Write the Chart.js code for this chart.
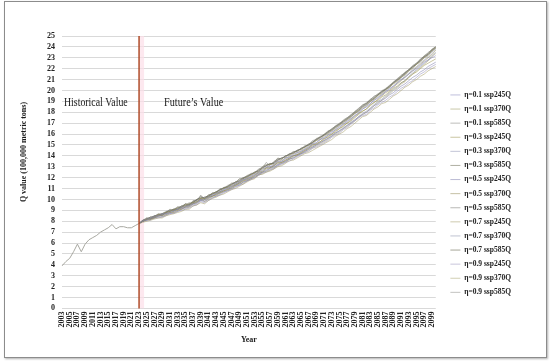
<!DOCTYPE html>
<html lang="en">
<head>
<meta charset="UTF-8">
<title>Q value projection</title>
<script src="https://cdn.jsdelivr.net/npm/chart.js"></script>
<style>
  html, body { margin: 0; padding: 0; background: #fff; }
  #wrap { position: relative; width: 550px; height: 362px; }
  #frame { position: absolute; left: 4px; top: 1px; width: 541px; height: 355px;
           border: 1px solid #8c8c8c; box-shadow: 1px 1px 2px #b0b0b0; pointer-events: none; }
</style>
</head>
<body>
<div id="wrap">
  <canvas id="chart" width="550" height="362"></canvas>
  <div id="frame"></div>
</div>
<script>
// years on the x axis, 2003 .. 2100
const years = [];
for (let y = 2003; y <= 2100; y++) years.push(String(y));

// observed values 2003-2023
const historical = [3.9, 4.3, 4.6, 5.2, 5.9, 5.2, 5.9, 6.3, 6.5, 6.7, 7.0,
                    7.2, 7.4, 7.7, 7.3, 7.5, 7.5, 7.4, 7.4, 7.6, 7.8];

// projections 2023-2100, one array per scenario
const e01_245 = [7.8, 8.0, 8.2, 8.3, 8.4, 8.5, 8.6, 8.7, 8.8, 8.9,
  9.1, 9.2, 9.3, 9.4, 9.6, 9.7, 10.0, 9.9, 10.2, 10.4,
  10.5, 10.7, 10.9, 11.0, 11.2, 11.4, 11.6, 11.8, 11.9, 12.1,
  12.3, 12.5, 12.7, 13.0, 13.0, 13.2, 13.5, 13.5, 13.8, 13.9,
  14.1, 14.3, 14.4, 14.6, 14.8, 15.1, 15.2, 15.5, 15.7, 15.9,
  16.2, 16.4, 16.7, 16.9, 17.2, 17.4, 17.7, 18.0, 18.3, 18.5,
  18.8, 19.1, 19.3, 19.6, 19.9, 20.1, 20.4, 20.7, 21.0, 21.2,
  21.5, 21.8, 22.0, 22.3, 22.6, 22.8, 23.0, 23.2];
const e01_370 = [7.8, 8.0, 8.2, 8.3, 8.4, 8.6, 8.6, 8.8, 8.9, 9.0,
  9.2, 9.2, 9.5, 9.6, 9.7, 9.8, 10.1, 10.1, 10.2, 10.5,
  10.6, 10.7, 11.0, 11.1, 11.3, 11.4, 11.6, 11.8, 12.0, 12.2,
  12.4, 12.5, 12.8, 12.9, 13.2, 13.2, 13.5, 13.6, 13.8, 14.0,
  14.2, 14.3, 14.5, 14.7, 14.9, 15.1, 15.4, 15.5, 15.8, 16.0,
  16.3, 16.5, 16.8, 17.0, 17.3, 17.5, 17.9, 18.1, 18.4, 18.6,
  19.0, 19.2, 19.5, 19.7, 20.0, 20.3, 20.6, 20.8, 21.2, 21.4,
  21.8, 22.0, 22.4, 22.6, 23.0, 23.2, 23.6, 23.9];
const e01_585 = [7.8, 8.0, 8.3, 8.2, 8.5, 8.6, 8.5, 8.9, 9.0, 8.9,
  9.2, 9.4, 9.5, 9.4, 9.9, 9.9, 10.4, 10.0, 10.3, 10.6,
  10.6, 11.0, 11.0, 11.3, 11.4, 11.6, 11.8, 12.0, 12.1, 12.4,
  12.4, 12.8, 12.9, 13.4, 13.1, 13.5, 13.7, 13.8, 13.9, 14.2,
  14.3, 14.5, 14.6, 14.9, 15.0, 15.4, 15.5, 15.8, 15.9, 16.3,
  16.4, 16.8, 16.9, 17.3, 17.5, 17.8, 18.0, 18.4, 18.6, 18.9,
  19.1, 19.5, 19.6, 20.0, 20.1, 20.5, 20.7, 21.1, 21.3, 21.7,
  21.9, 22.3, 22.5, 22.9, 23.1, 23.5, 23.7, 24.0];
const e03_245 = [7.8, 8.0, 8.2, 8.2, 8.3, 8.5, 8.5, 8.6, 8.8, 8.8,
  9.0, 9.1, 9.3, 9.3, 9.6, 9.7, 10.1, 9.8, 10.1, 10.3,
  10.4, 10.6, 10.8, 10.9, 11.1, 11.3, 11.5, 11.7, 11.8, 12.0,
  12.2, 12.5, 12.6, 12.9, 12.9, 13.1, 13.4, 13.4, 13.6, 13.8,
  14.0, 14.1, 14.3, 14.5, 14.7, 15.0, 15.1, 15.3, 15.5, 15.8,
  16.0, 16.3, 16.5, 16.8, 17.0, 17.3, 17.6, 17.9, 18.1, 18.3,
  18.6, 18.9, 19.1, 19.4, 19.6, 19.9, 20.2, 20.4, 20.7, 20.9,
  21.2, 21.5, 21.7, 22.0, 22.3, 22.5, 22.7, 22.9];
const e03_370 = [7.8, 8.1, 8.1, 8.3, 8.5, 8.5, 8.7, 8.7, 9.0, 9.0,
  9.1, 9.3, 9.4, 9.6, 9.6, 9.9, 10.0, 10.2, 10.2, 10.4,
  10.6, 10.7, 10.9, 11.1, 11.2, 11.4, 11.5, 11.8, 11.9, 12.1,
  12.3, 12.4, 12.6, 12.9, 13.0, 13.1, 13.4, 13.5, 13.7, 13.9,
  14.0, 14.2, 14.4, 14.6, 14.8, 15.0, 15.2, 15.5, 15.6, 15.9,
  16.1, 16.4, 16.6, 16.9, 17.1, 17.4, 17.7, 17.9, 18.3, 18.5,
  18.8, 19.1, 19.4, 19.6, 19.9, 20.2, 20.4, 20.7, 21.0, 21.3,
  21.6, 21.9, 22.2, 22.5, 22.8, 23.1, 23.5, 23.8];
const e03_585 = [7.8, 8.1, 8.2, 8.4, 8.4, 8.7, 8.6, 8.8, 9.1, 9.0,
  9.3, 9.3, 9.6, 9.5, 9.8, 10.0, 10.2, 10.1, 10.4, 10.5,
  10.7, 10.9, 11.1, 11.2, 11.5, 11.5, 11.9, 11.9, 12.2, 12.3,
  12.5, 12.7, 13.0, 13.2, 13.2, 13.4, 13.8, 13.7, 14.0, 14.1,
  14.4, 14.4, 14.7, 14.8, 15.1, 15.2, 15.6, 15.7, 16.0, 16.2,
  16.5, 16.7, 17.0, 17.2, 17.5, 17.7, 18.1, 18.3, 18.7, 18.8,
  19.2, 19.4, 19.7, 19.9, 20.2, 20.4, 20.8, 21.0, 21.4, 21.6,
  21.9, 22.2, 22.5, 22.8, 23.2, 23.4, 23.8, 24.0];
const e05_245 = [7.8, 8.0, 8.1, 8.2, 8.3, 8.4, 8.4, 8.6, 8.7, 8.8,
  8.9, 9.1, 9.2, 9.3, 9.5, 9.6, 9.9, 9.8, 10.0, 10.2,
  10.3, 10.5, 10.7, 10.8, 11.0, 11.2, 11.3, 11.6, 11.7, 11.9,
  12.1, 12.3, 12.5, 12.7, 12.8, 13.0, 13.2, 13.3, 13.5, 13.7,
  13.8, 14.0, 14.2, 14.4, 14.6, 14.8, 15.0, 15.2, 15.4, 15.6,
  15.8, 16.1, 16.3, 16.5, 16.8, 17.0, 17.3, 17.6, 17.8, 18.0,
  18.3, 18.6, 18.8, 19.1, 19.3, 19.6, 19.8, 20.1, 20.4, 20.6,
  20.9, 21.2, 21.4, 21.7, 21.9, 22.2, 22.4, 22.6];
const e05_370 = [7.8, 8.0, 8.2, 8.2, 8.4, 8.6, 8.5, 8.8, 8.9, 9.1,
  9.0, 9.3, 9.4, 9.5, 9.7, 9.8, 10.0, 10.1, 10.3, 10.3,
  10.5, 10.7, 10.8, 11.0, 11.2, 11.3, 11.5, 11.7, 11.9, 12.0,
  12.2, 12.4, 12.5, 12.8, 12.9, 13.1, 13.3, 13.4, 13.6, 13.8,
  14.0, 14.1, 14.3, 14.5, 14.7, 14.9, 15.1, 15.3, 15.6, 15.7,
  16.0, 16.2, 16.5, 16.7, 17.0, 17.2, 17.5, 17.8, 18.1, 18.3,
  18.7, 18.9, 19.2, 19.5, 19.8, 20.0, 20.3, 20.6, 20.9, 21.2,
  21.5, 21.8, 22.1, 22.4, 22.7, 23.0, 23.3, 23.7];
const e05_585 = [7.8, 8.1, 8.3, 8.3, 8.5, 8.6, 8.7, 8.8, 9.0, 9.1,
  9.2, 9.3, 9.6, 9.5, 9.8, 9.9, 10.3, 10.1, 10.4, 10.5,
  10.7, 10.9, 11.0, 11.2, 11.4, 11.5, 11.7, 11.9, 12.1, 12.2,
  12.5, 12.6, 12.9, 13.1, 13.2, 13.4, 13.6, 13.8, 14.0, 14.1,
  14.3, 14.5, 14.6, 14.8, 15.0, 15.3, 15.4, 15.7, 15.9, 16.1,
  16.4, 16.6, 16.9, 17.1, 17.4, 17.6, 17.9, 18.2, 18.5, 18.7,
  19.0, 19.3, 19.6, 19.8, 20.1, 20.3, 20.7, 20.9, 21.2, 21.5,
  21.8, 22.1, 22.4, 22.7, 23.0, 23.3, 23.6, 23.9];
const e07_245 = [7.8, 7.9, 8.0, 8.1, 8.2, 8.3, 8.3, 8.5, 8.6, 8.7,
  8.8, 8.9, 9.1, 9.1, 9.4, 9.5, 9.7, 9.6, 9.9, 10.1,
  10.2, 10.4, 10.5, 10.7, 10.9, 11.0, 11.2, 11.4, 11.6, 11.8,
  11.9, 12.3, 12.3, 12.5, 12.6, 12.8, 13.0, 13.1, 13.3, 13.6,
  13.6, 13.8, 14.0, 14.2, 14.3, 14.5, 14.7, 14.9, 15.1, 15.3,
  15.5, 15.8, 16.0, 16.2, 16.5, 16.7, 17.0, 17.3, 17.6, 17.7,
  18.0, 18.3, 18.5, 18.8, 18.9, 19.2, 19.5, 19.7, 20.0, 20.3,
  20.5, 20.8, 21.0, 21.3, 21.5, 21.8, 22.0, 22.2];
const e07_370 = [7.8, 8.0, 8.1, 8.3, 8.3, 8.5, 8.6, 8.7, 8.8, 9.0,
  9.1, 9.2, 9.3, 9.5, 9.6, 9.8, 9.9, 10.0, 10.2, 10.3,
  10.5, 10.6, 10.8, 10.9, 11.1, 11.3, 11.4, 11.6, 11.8, 11.9,
  12.1, 12.3, 12.5, 12.6, 12.9, 12.9, 13.2, 13.4, 13.5, 13.7,
  13.9, 14.1, 14.2, 14.4, 14.6, 14.8, 15.0, 15.2, 15.4, 15.6,
  15.9, 16.1, 16.3, 16.6, 16.8, 17.1, 17.3, 17.6, 17.9, 18.1,
  18.4, 18.7, 19.0, 19.2, 19.5, 19.8, 20.1, 20.3, 20.7, 20.9,
  21.3, 21.6, 21.9, 22.2, 22.5, 22.8, 23.2, 23.5];
const e07_585 = [7.8, 8.0, 8.2, 8.3, 8.5, 8.5, 8.7, 8.8, 8.9, 9.1,
  9.1, 9.4, 9.4, 9.6, 9.7, 10.0, 10.1, 10.2, 10.3, 10.5,
  10.7, 10.8, 11.1, 11.1, 11.4, 11.6, 11.7, 12.0, 12.1, 12.3,
  12.5, 12.6, 12.9, 13.1, 13.3, 13.3, 13.6, 13.8, 13.9, 14.2,
  14.2, 14.5, 14.6, 14.9, 15.0, 15.2, 15.5, 15.7, 15.9, 16.2,
  16.4, 16.7, 16.9, 17.2, 17.4, 17.7, 18.0, 18.2, 18.6, 18.8,
  19.1, 19.3, 19.6, 19.9, 20.1, 20.4, 20.7, 21.0, 21.2, 21.6,
  21.9, 22.2, 22.4, 22.8, 23.1, 23.3, 23.7, 24.0];
const e09_245 = [7.8, 8.0, 8.1, 8.1, 8.3, 8.3, 8.4, 8.5, 8.7, 8.7,
  8.9, 9.0, 9.1, 9.2, 9.4, 9.5, 9.8, 9.7, 9.9, 10.1,
  10.3, 10.4, 10.6, 10.8, 10.9, 11.1, 11.3, 11.4, 11.7, 11.8,
  12.0, 12.2, 12.4, 12.5, 12.7, 12.8, 13.1, 13.2, 13.4, 13.5,
  13.7, 13.9, 14.1, 14.3, 14.4, 14.7, 14.8, 15.0, 15.2, 15.4,
  15.7, 15.9, 16.1, 16.4, 16.6, 16.9, 17.2, 17.5, 17.7, 17.8,
  18.2, 18.4, 18.7, 18.9, 19.1, 19.4, 19.6, 19.9, 20.2, 20.4,
  20.7, 20.9, 21.2, 21.5, 21.7, 22.0, 22.2, 22.4];
const e09_370 = [7.8, 8.0, 8.2, 8.2, 8.4, 8.4, 8.6, 8.7, 8.8, 8.9,
  9.1, 9.1, 9.3, 9.4, 9.6, 9.7, 9.9, 10.0, 10.1, 10.3,
  10.4, 10.6, 10.7, 10.9, 11.0, 11.2, 11.4, 11.5, 11.7, 11.9,
  12.0, 12.2, 12.4, 12.6, 12.7, 12.9, 13.1, 13.3, 13.4, 13.7,
  13.8, 14.0, 14.2, 14.3, 14.5, 14.7, 14.9, 15.1, 15.3, 15.5,
  15.8, 16.0, 16.2, 16.5, 16.7, 17.0, 17.2, 17.5, 17.8, 18.0,
  18.3, 18.6, 18.9, 19.1, 19.4, 19.7, 20.0, 20.2, 20.6, 20.8,
  21.2, 21.5, 21.8, 22.1, 22.4, 22.7, 23.1, 23.4];
const e09_585 = [7.8, 8.1, 8.2, 8.4, 8.4, 8.6, 8.7, 8.9, 8.9, 9.1,
  9.3, 9.3, 9.5, 9.7, 9.7, 10.0, 10.1, 10.2, 10.3, 10.6,
  10.6, 10.9, 11.0, 11.2, 11.3, 11.6, 11.6, 11.9, 12.0, 12.3,
  12.4, 12.7, 12.8, 13.1, 13.3, 13.3, 13.7, 13.7, 14.0, 14.1,
  14.3, 14.4, 14.7, 14.8, 15.0, 15.2, 15.5, 15.6, 15.9, 16.1,
  16.3, 16.6, 16.8, 17.1, 17.3, 17.6, 17.9, 18.1, 18.5, 18.7,
  19.0, 19.2, 19.6, 19.8, 20.1, 20.3, 20.7, 20.9, 21.3, 21.5,
  21.9, 22.1, 22.5, 22.7, 23.1, 23.3, 23.7, 23.9];

const scenarioNames = [
  'η=0.1 ssp245Q', 'η=0.1 ssp370Q', 'η=0.1 ssp585Q',
  'η=0.3 ssp245Q', 'η=0.3 ssp370Q', 'η=0.3 ssp585Q',
  'η=0.5 ssp245Q', 'η=0.5 ssp370Q', 'η=0.5 ssp585Q',
  'η=0.7 ssp245Q', 'η=0.7 ssp370Q', 'η=0.7 ssp585Q',
  'η=0.9 ssp245Q', 'η=0.9 ssp370Q', 'η=0.9 ssp585Q'
];
const scenarioValues = [e01_245, e01_370, e01_585, e03_245, e03_370, e03_585,
  e05_245, e05_370, e05_585, e07_245, e07_370, e07_585, e09_245, e09_370, e09_585];
// muted lavender / olive / grey, semi transparent so the bundle darkens where lines overlap
const scenarioColors = [
  'rgba(130,128,185,0.5)', 'rgba(150,145,85,0.5)', 'rgba(125,125,120,0.5)',
  'rgba(150,142,70,0.5)', 'rgba(135,140,175,0.5)', 'rgba(110,110,85,0.55)',
  'rgba(120,120,170,0.5)', 'rgba(140,132,75,0.5)', 'rgba(115,115,110,0.5)',
  'rgba(160,152,95,0.5)', 'rgba(130,136,165,0.5)', 'rgba(95,95,70,0.55)',
  'rgba(145,140,185,0.5)', 'rgba(165,160,105,0.5)', 'rgba(135,135,130,0.5)'
];

const splitYear = '2023';
const pad = n => new Array(n).fill(null);

const datasets = [{
  label: 'Historical',
  data: historical.concat(pad(years.length - historical.length)),
  borderColor: '#a9a9a2',
  backgroundColor: '#a9a9a2',
  borderWidth: 1,
  pointRadius: 0,
  tension: 0
}];
scenarioValues.forEach((vals, i) => {
  datasets.push({
    label: scenarioNames[i],
    data: pad(historical.length - 1).concat(vals),
    borderColor: scenarioColors[i],
    backgroundColor: scenarioColors[i],
    borderWidth: 1,
    pointRadius: 0,
    tension: 0
  });
});

const serif = "'Liberation Serif', 'Times New Roman', serif";

const overlay = {
  id: 'overlay',
  beforeDatasetsDraw(chart) {
    const {ctx, chartArea} = chart;
    const xs = chart.scales.x;
    const xp = xs.getPixelForValue(years.indexOf(splitYear));
    ctx.save();
    ctx.fillStyle = 'rgba(252,222,232,0.7)';
    ctx.fillRect(xp + 1, chartArea.top, 4, chartArea.bottom - chartArea.top);
    ctx.restore();
  },
  afterDatasetsDraw(chart) {
    const {ctx, chartArea} = chart;
    const xs = chart.scales.x, ys = chart.scales.y;
    const xp = xs.getPixelForValue(years.indexOf(splitYear));
    ctx.save();
    ctx.strokeStyle = '#b04a28';
    ctx.lineWidth = 1.5;
    ctx.beginPath();
    ctx.moveTo(xp, chartArea.top);
    ctx.lineTo(xp, chartArea.bottom);
    ctx.stroke();

    // region captions
    ctx.fillStyle = '#1a1a1a';
    ctx.font = '12px ' + serif;
    ctx.textBaseline = 'middle';
    const ty = ys.getPixelForValue(18.9);
    ctx.save();
    ctx.translate(xs.getPixelForValue(0) + 2, ty);
    ctx.scale(0.82, 1);
    ctx.fillText('Historical Value', 0, 0);
    ctx.restore();
    ctx.save();
    ctx.translate(xp + 25, ty);
    ctx.scale(0.85, 1);
    ctx.fillText('Future\u2019s Value', 0, 0);
    ctx.restore();

    // y axis title
    ctx.save();
    ctx.translate(24, 152);
    ctx.rotate(-Math.PI / 2);
    ctx.font = 'bold 8px ' + serif;
    ctx.textAlign = 'center';
    ctx.fillText('Q value (100,000 metric tons)', 0, 0);
    ctx.restore();
    ctx.restore();
  }
};

new Chart(document.getElementById('chart'), {
  type: 'line',
  data: { labels: years, datasets: datasets },
  options: {
    responsive: false,
    animation: false,
    layout: { padding: { left: 40, right: 29, top: 36, bottom: 15 } },
    plugins: {
      tooltip: { enabled: false },
      legend: {
        position: 'right',
        align: 'start',
        title: { display: true, text: ' ', font: { size: 8 }, padding: { top: 39, bottom: 0 } },
        labels: {
          filter: item => item.text !== 'Historical',
          usePointStyle: true,
          pointStyle: 'line',
          pointStyleWidth: 10,
          boxHeight: 7.5,
          padding: 6.6,
          color: '#222',
          font: { family: serif, size: 7.5, weight: 'bold' }
        }
      }
    },
    scales: {
      x: {
        grid: { display: false, drawTicks: false },
        border: { display: false },
        ticks: {
          autoSkip: false,
          minRotation: 90,
          maxRotation: 90,
          padding: 3,
          color: '#222',
          font: { family: serif, size: 8, weight: 'bold' },
          callback: (v, i) => (i % 2 === 0 ? years[i] : '')
        },
        title: {
          display: true,
          text: 'Year',
          color: '#222',
          font: { family: serif, size: 8, weight: 'bold' },
          padding: { top: 5, bottom: 2 }
        }
      },
      y: {
        min: 0,
        max: 25,
        grid: { color: '#d9d9d9', drawTicks: false },
        border: { display: false },
        ticks: {
          stepSize: 1,
          autoSkip: false,
          padding: 7,
          color: '#222',
          font: { family: serif, size: 8, weight: 'bold' }
        }
      },
      gap: {
        position: 'right',
        display: true,
        grid: { display: false, drawOnChartArea: false },
        border: { display: false },
        ticks: { display: false },
        afterFit: scale => { scale.width = 8; }
      }
    }
  },
  plugins: [overlay]
});
</script>
</body>
</html>
